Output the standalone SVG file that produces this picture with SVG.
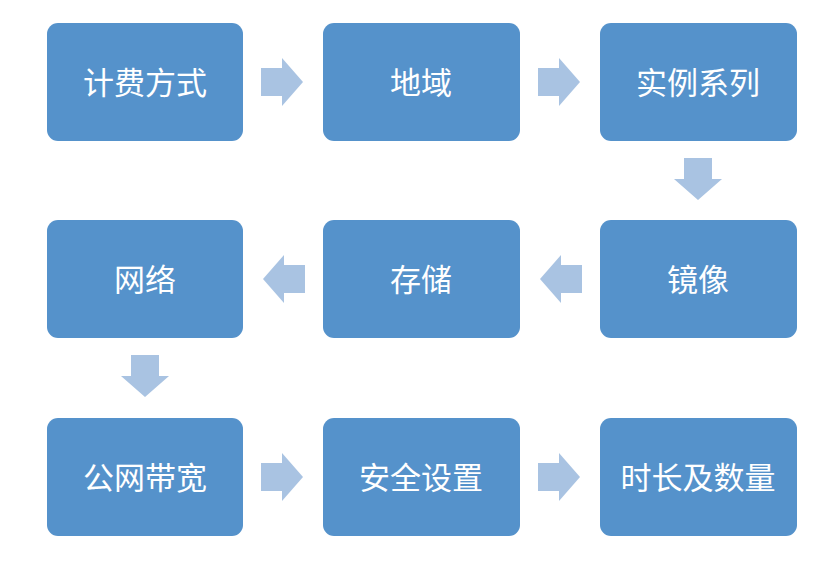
<svg xmlns="http://www.w3.org/2000/svg" width="831" height="568" viewBox="0 0 831 568">
<style>
.box{fill:#5592cb;}
.t{fill:#ffffff;font-family:"Noto Sans CJK SC","Noto Sans",sans-serif;font-size:31px;text-anchor:middle;dominant-baseline:central;}
.arr{fill:#a9c3e2;}
</style>
<defs>
<path id="ar" d="M-21,-14 H0 V-24 L21,0 L0,24 V14 H-21 Z"/>
</defs>
<rect width="831" height="568" fill="#ffffff"/>
<g id="n1"><rect class="box" x="47" y="23" width="196" height="118" rx="11"/><text class="t" x="145" y="80">计费方式</text></g>
<g id="n2"><rect class="box" x="323" y="23" width="197" height="118" rx="11"/><text class="t" x="421" y="80">地域</text></g>
<g id="n3"><rect class="box" x="600" y="23" width="197" height="118" rx="11"/><text class="t" x="698" y="80">实例系列</text></g>
<g id="n4"><rect class="box" x="600" y="220" width="197" height="118" rx="11"/><text class="t" x="698" y="277">镜像</text></g>
<g id="n5"><rect class="box" x="323" y="220" width="197" height="118" rx="11"/><text class="t" x="421" y="277">存储</text></g>
<g id="n6"><rect class="box" x="47" y="220" width="196" height="118" rx="11"/><text class="t" x="145" y="277">网络</text></g>
<g id="n7"><rect class="box" x="47" y="418" width="196" height="118" rx="11"/><text class="t" x="145" y="475">公网带宽</text></g>
<g id="n8"><rect class="box" x="323" y="418" width="197" height="118" rx="11"/><text class="t" x="421" y="475">安全设置</text></g>
<g id="n9"><rect class="box" x="600" y="418" width="197" height="118" rx="11"/><text class="t" x="698" y="475">时长及数量</text></g>
<g id="connectors" class="arr">
<use href="#ar" transform="translate(282,82)"/>
<use href="#ar" transform="translate(559,82)"/>
<use href="#ar" transform="translate(698,179) rotate(90)"/>
<use href="#ar" transform="translate(561,279) rotate(180)"/>
<use href="#ar" transform="translate(284,279) rotate(180)"/>
<use href="#ar" transform="translate(145,376) rotate(90)"/>
<use href="#ar" transform="translate(282,477)"/>
<use href="#ar" transform="translate(559,477)"/>
</g>
</svg>
